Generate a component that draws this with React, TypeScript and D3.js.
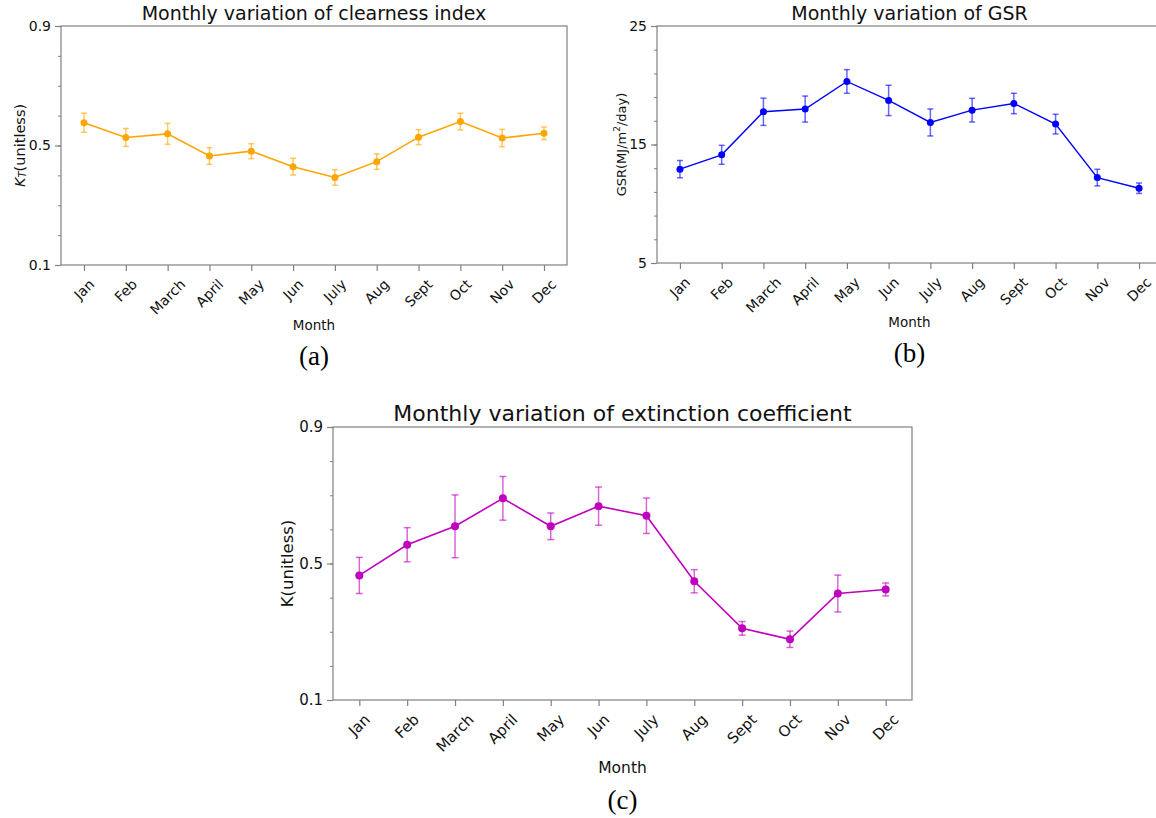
import { useEffect, useRef } from 'react'
import * as d3 from 'd3'

// month categories shared by all three panels
const months = ['Jan', 'Feb', 'March', 'April', 'May', 'Jun', 'July', 'Aug', 'Sept', 'Oct', 'Nov', 'Dec']

// (a) clearness index
const ktMean = [0.576, 0.527, 0.539, 0.465, 0.481, 0.429, 0.393, 0.446, 0.528, 0.580, 0.525, 0.541]
const ktErr = [0.032, 0.030, 0.035, 0.028, 0.025, 0.028, 0.026, 0.026, 0.025, 0.028, 0.029, 0.021]
const ktTicks = [0.1, 0.5, 0.9]
const ktMinor = [0.1, 0.2, 0.3, 0.4, 0.5, 0.6, 0.7, 0.8, 0.9]

// (b) global solar radiation
const gsrMean = [12.92, 14.13, 17.76, 17.99, 20.32, 18.72, 16.86, 17.9, 18.46, 16.72, 12.21, 11.31]
const gsrErr = [0.73, 0.8, 1.15, 1.1, 1.0, 1.28, 1.14, 1.0, 0.86, 0.83, 0.7, 0.44]
const gsrTicks = [5, 15, 25]
const gsrMinor = [5, 7, 9, 11, 13, 15, 17, 19, 21, 23, 25]

// (c) extinction coefficient
const kMean = [0.465, 0.555, 0.609, 0.691, 0.609, 0.668, 0.64, 0.448, 0.31, 0.278, 0.412, 0.424]
const kErr = [0.053, 0.05, 0.092, 0.064, 0.039, 0.056, 0.052, 0.034, 0.02, 0.024, 0.054, 0.019]
const kTicks = [0.1, 0.5, 0.9]
const kMinor = [0.1, 0.2, 0.3, 0.4, 0.5, 0.6, 0.7, 0.8, 0.9]

const FONT = "'DejaVu Sans', sans-serif"
const SPINE = '#808080'

type Panel = {
  left: number; right: number; top: number; bottom: number
  mean: number[]; err: number[]; ticks: number[]; minor: number[]
  color: string; errColor: string
  title: string; titleSize: number; tickSize: number; monthSize: number; ylabelSize: number
  ylabel: string; ylabelX: number; monthY: number; labelGap: number
  tag: string; tagY: number; r: number; cap: number; lw: number
}

function drawPanel(root: d3.Selection<SVGSVGElement, unknown, null, undefined>, p: Panel) {
  const g = root.append('g')
  const x = d3.scaleLinear().domain([-0.55, months.length - 1 + 0.55]).range([p.left, p.right])
  const y = d3.scaleLinear().domain([p.ticks[0], p.ticks[p.ticks.length - 1]]).range([p.bottom, p.top])
  const cx = (p.left + p.right) / 2

  // frame
  g.append('rect')
    .attr('x', p.left).attr('y', p.top)
    .attr('width', p.right - p.left).attr('height', p.bottom - p.top)
    .attr('fill', 'none').attr('stroke', SPINE).attr('stroke-width', 1.2)

  // minor y ticks
  g.append('g')
    .attr('transform', `translate(${p.left},0)`)
    .call(d3.axisLeft(y).tickValues(p.minor).tickSize(3).tickFormat(() => ''))
    .call(a => {
      a.select('.domain').remove()
      a.selectAll('.tick line').attr('stroke', SPINE)
    })

  // major y ticks
  g.append('g')
    .attr('transform', `translate(${p.left},0)`)
    .call(d3.axisLeft(y).tickValues(p.ticks).tickSize(6).tickPadding(4).tickFormat(d => String(d)))
    .call(a => {
      a.select('.domain').remove()
      a.selectAll('.tick line').attr('stroke', SPINE).attr('stroke-width', 1.2)
      a.selectAll('text').attr('fill', '#111').attr('font-family', FONT).attr('font-size', p.tickSize)
    })

  // x ticks
  g.append('g')
    .attr('transform', `translate(0,${p.bottom})`)
    .call(d3.axisBottom(x).tickValues(d3.range(months.length)).tickSize(6).tickFormat(() => ''))
    .call(a => {
      a.select('.domain').remove()
      a.selectAll('.tick line').attr('stroke', SPINE).attr('stroke-width', 1.2)
    })

  // rotated month labels, bbox centred under tick like matplotlib
  months.forEach((m, i) => {
    const t = g.append('text')
      .attr('font-family', FONT).attr('font-size', p.tickSize)
      .attr('fill', '#111').attr('text-anchor', 'middle')
      .attr('dominant-baseline', 'central')
      .text(m)
    const len = (t.node() as SVGTextElement).getComputedTextLength()
    const half = (len + p.tickSize * 0.75) * Math.SQRT1_2 / 2
    t.attr('transform', `translate(${x(i)},${p.bottom + p.labelGap + half}) rotate(-45)`)
  })

  // error bars
  const eb = g.append('g').attr('stroke', p.errColor).attr('stroke-width', 1.5)
  p.mean.forEach((v, i) => {
    const xi = x(i)
    const lo = y(v - p.err[i]), hi = y(v + p.err[i])
    eb.append('line').attr('x1', xi).attr('x2', xi).attr('y1', lo).attr('y2', hi)
    eb.append('line').attr('x1', xi - p.cap).attr('x2', xi + p.cap).attr('y1', lo).attr('y2', lo)
    eb.append('line').attr('x1', xi - p.cap).attr('x2', xi + p.cap).attr('y1', hi).attr('y2', hi)
  })

  // line
  const line = d3.line<number>().x((_, i) => x(i)).y(d => y(d))
  g.append('path')
    .attr('d', line(p.mean))
    .attr('fill', 'none').attr('stroke', p.color).attr('stroke-width', p.lw)

  g.selectAll('.pt')
    .data(p.mean)
    .join('circle')
    .attr('cx', (_, i) => x(i)).attr('cy', d => y(d))
    .attr('r', p.r).attr('fill', p.color)

  // title
  g.append('text')
    .attr('x', cx).attr('y', p.top - 6)
    .attr('text-anchor', 'middle')
    .attr('font-family', FONT).attr('font-size', p.titleSize).attr('fill', '#111')
    .text(p.title)

  // x label
  g.append('text')
    .attr('x', cx).attr('y', p.monthY)
    .attr('text-anchor', 'middle').attr('dominant-baseline', 'central')
    .attr('font-family', FONT).attr('font-size', p.monthSize).attr('fill', '#111')
    .text('Month')

  // y label
  const yl = g.append('text')
    .attr('transform', `translate(${p.ylabelX},${(p.top + p.bottom) / 2}) rotate(-90)`)
    .attr('text-anchor', 'middle').attr('dominant-baseline', 'central')
    .attr('font-family', FONT).attr('font-size', p.ylabelSize).attr('fill', '#111')
  if (p.ylabel === 'KT') {
    yl.append('tspan').attr('font-style', 'italic').text('K')
    yl.append('tspan').attr('font-style', 'italic').attr('font-size', p.ylabelSize * 0.7)
      .attr('baseline-shift', '-25%').text('T')
    yl.append('tspan').text('(unitless)')
  } else if (p.ylabel === 'GSR') {
    yl.append('tspan').text('GSR(MJ/m')
    yl.append('tspan').attr('font-size', p.ylabelSize * 0.7).attr('baseline-shift', '40%').text('2')
    yl.append('tspan').text('/day)')
  } else {
    yl.text(p.ylabel)
  }

  // panel tag
  g.append('text')
    .attr('x', cx).attr('y', p.tagY)
    .attr('text-anchor', 'middle').attr('dominant-baseline', 'central')
    .attr('font-family', "'Liberation Serif', 'Times New Roman', serif")
    .attr('font-size', 27).attr('fill', '#000')
    .text(p.tag)
}

export default function App() {
  const svgRef = useRef<SVGSVGElement>(null)

  useEffect(() => {
    if (!svgRef.current) return
    const svg = d3.select(svgRef.current)
    svg.selectAll('*').remove()

    drawPanel(svg, {
      left: 61, right: 567, top: 26, bottom: 265,
      mean: ktMean, err: ktErr, ticks: ktTicks, minor: ktMinor,
      color: '#ffa500', errColor: 'rgba(255,165,0,0.6)',
      title: 'Monthly variation of clearness index', titleSize: 19, tickSize: 14, monthSize: 13.5, ylabelSize: 14.5,
      ylabel: 'KT', ylabelX: 20, monthY: 325, labelGap: 13, tag: '(a)', tagY: 356, r: 3.5, cap: 3, lw: 1.6,
    })
    drawPanel(svg, {
      left: 657, right: 1162, top: 26, bottom: 263,
      mean: gsrMean, err: gsrErr, ticks: gsrTicks, minor: gsrMinor,
      color: '#0000ff', errColor: 'rgba(0,0,255,0.6)',
      title: 'Monthly variation of GSR', titleSize: 19, tickSize: 14, monthSize: 13.5, ylabelSize: 13,
      ylabel: 'GSR', ylabelX: 621, monthY: 322, labelGap: 13, tag: '(b)', tagY: 353, r: 3.5, cap: 3, lw: 1.4,
    })
    drawPanel(svg, {
      left: 333, right: 912, top: 427, bottom: 700,
      mean: kMean, err: kErr, ticks: kTicks, minor: kMinor,
      color: '#bf00bf', errColor: 'rgba(191,0,191,0.6)',
      title: 'Monthly variation of extinction coefficient', titleSize: 22, tickSize: 15, monthSize: 15.5, ylabelSize: 16.5,
      ylabel: 'K(unitless)', ylabelX: 287, monthY: 768, labelGap: 13, tag: '(c)', tagY: 800, r: 4, cap: 3.5, lw: 1.6,
    })
  }, [])

  return (
    <svg
      ref={svgRef}
      width={1156}
      height={818}
      style={{ position: 'absolute', left: 0, top: 0, background: '#fff', display: 'block', overflow: 'hidden' }}
    />
  )
}
